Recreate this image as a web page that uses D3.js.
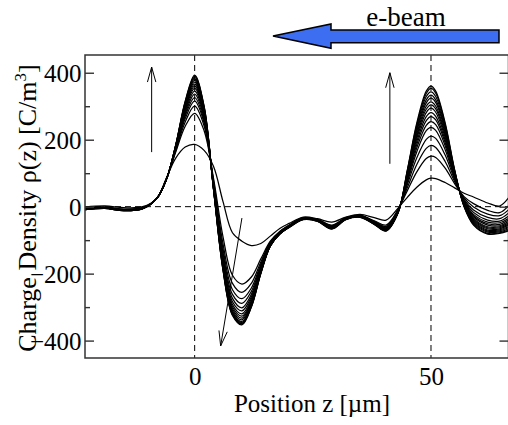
<!DOCTYPE html>
<html><head><meta charset="utf-8">
<script src="https://cdn.jsdelivr.net/npm/d3@7"></script>
<style>
html,body{margin:0;padding:0;background:#fff;}
svg{display:block;}
text{font-family:"Liberation Serif","Times New Roman",Times,serif;fill:#000;}
</style></head><body>
<svg id="chart" width="508" height="425"></svg>
<script>
// Position grid (µm) shared by every charge-density profile
const zGrid = [-24, -19, -15, -11, -8, -6, -4, -2, 0, 2, 4, 6, 8, 10, 12, 14, 16, 18, 20, 23, 26, 29, 32, 35, 38, 40.5, 43, 45, 47, 49, 50, 51, 53, 55, 57, 59, 62, 64.5, 66.5];

// Charge density ρ(z) in C/m³, one profile per time step (growing amplitude)
const rho01 = [-2, 2, -3, 0, 25, 85, 145, 178, 186, 168, 120, 15, -78, -103, -116, -110, -88, -65, -50, -31, -36, -46, -31, -23, -33, -40, -5, 28, 58, 80, 85, 84, 72, 56, 40, 29, 11, 2, 28];
const rho02 = [-6, -1, -7, -3, 25, 83, 163, 240, 279, 227, 84, -90, -205, -231, -210, -156, -103, -74, -55, -33, -38, -55, -33, -26, -42, -55, -9, 48, 104, 144, 151, 147, 115, 69, 30, 9, -11, -18, 4];
const rho03 = [-6, -2, -8, -3, 25, 82, 167, 253, 300, 241, 77, -111, -229, -256, -229, -165, -106, -75, -56, -34, -39, -57, -34, -27, -44, -59, -10, 57, 126, 174, 183, 177, 135, 75, 26, -1, -22, -27, -8];
const rho04 = [-7, -2, -9, -4, 25, 82, 170, 263, 315, 250, 72, -126, -248, -275, -243, -172, -109, -77, -57, -34, -39, -58, -34, -27, -45, -61, -12, 66, 146, 201, 211, 204, 154, 81, 22, -10, -32, -36, -18];
const rho05 = [-7, -3, -9, -4, 25, 82, 172, 271, 326, 257, 68, -138, -262, -289, -253, -177, -110, -78, -57, -34, -39, -59, -34, -27, -46, -63, -13, 73, 164, 227, 237, 228, 170, 86, 18, -17, -40, -43, -27];
const rho06 = [-8, -3, -10, -4, 25, 81, 174, 277, 336, 264, 64, -148, -274, -302, -262, -181, -112, -78, -58, -35, -40, -60, -35, -27, -47, -64, -14, 78, 176, 243, 254, 245, 182, 89, 15, -23, -46, -48, -34];
const rho07 = [-8, -3, -10, -5, 25, 81, 176, 283, 345, 269, 62, -156, -284, -311, -269, -185, -113, -79, -58, -35, -40, -60, -35, -28, -47, -65, -15, 83, 186, 257, 269, 259, 191, 92, 13, -27, -51, -53, -39];
const rho08 = [-8, -4, -10, -5, 25, 81, 177, 289, 353, 275, 59, -163, -292, -320, -275, -188, -114, -80, -59, -35, -40, -61, -35, -28, -48, -66, -16, 87, 195, 269, 281, 270, 199, 95, 11, -31, -55, -57, -43];
const rho09 = [-9, -4, -11, -5, 25, 81, 179, 293, 360, 279, 57, -168, -299, -327, -281, -191, -115, -80, -59, -36, -41, -62, -36, -29, -48, -67, -16, 90, 204, 281, 294, 282, 207, 97, 10, -35, -60, -60, -48];
const rho10 = [-9, -4, -11, -5, 25, 81, 180, 297, 366, 283, 56, -174, -305, -333, -285, -193, -116, -81, -59, -36, -41, -63, -36, -29, -49, -68, -17, 93, 211, 291, 304, 292, 214, 99, 8, -38, -63, -63, -52];
const rho11 = [-9, -4, -11, -5, 25, 81, 181, 301, 372, 287, 54, -178, -310, -338, -289, -195, -116, -81, -60, -36, -41, -63, -36, -29, -50, -69, -17, 96, 217, 300, 313, 300, 220, 101, 7, -41, -66, -66, -55];
const rho12 = [-9, -4, -11, -6, 25, 80, 182, 304, 377, 290, 53, -181, -315, -343, -292, -196, -117, -81, -60, -37, -42, -64, -37, -30, -50, -70, -18, 99, 225, 310, 324, 311, 227, 103, 5, -44, -70, -69, -59];
const rho13 = [-10, -5, -12, -6, 25, 80, 183, 308, 382, 293, 52, -184, -318, -346, -295, -197, -117, -82, -61, -37, -42, -65, -37, -30, -51, -70, -19, 102, 231, 319, 333, 319, 233, 105, 4, -47, -73, -72, -62];
const rho14 = [-10, -5, -12, -6, 25, 80, 184, 310, 386, 296, 51, -187, -321, -349, -297, -198, -117, -82, -61, -38, -43, -65, -38, -31, -52, -71, -19, 105, 238, 329, 343, 329, 239, 107, 2, -50, -76, -75, -66];
const rho15 = [-10, -5, -12, -6, 25, 80, 184, 313, 390, 298, 51, -188, -323, -351, -299, -199, -118, -82, -62, -38, -43, -66, -38, -31, -52, -72, -20, 108, 245, 338, 353, 339, 246, 109, 1, -53, -80, -78, -70];
const rho16 = [-10, -5, -12, -6, 25, 80, 185, 315, 393, 300, 50, -190, -325, -353, -300, -200, -118, -82, -62, -39, -44, -67, -39, -32, -53, -73, -20, 110, 250, 345, 360, 345, 250, 110, 0, -55, -82, -80, -72];

const profiles = [rho01, rho02, rho03, rho04, rho05, rho06, rho07, rho08, rho09, rho10, rho11, rho12, rho13, rho14, rho15, rho16];

// Axis ticks
const yMajorTicks = [-400, -200, 0, 200, 400];
const yMinorTicks = [-300, -100, 100, 300];
const xTicks = [0, 50];
const xMarkers = [0, 50];   // dashed guides at the two density peaks

// Growth-direction arrows, in data units: [z0, rho0] -> [z1, rho1]
const growthArrows = [
  [[-9.1, 163], [-9.1, 417]],
  [[41.3, 128], [41.3, 400]],
  [[10.0, -34], [5.5, -416]]
];

const svg = d3.select("#chart");
svg.append("rect").attr("width", 508).attr("height", 425).attr("fill", "#fff");

const box = {left: 85, right: 508.5, top: 55, bottom: 358};
const x = d3.scaleLinear().domain([-23.2, 66.4]).range([box.left, box.right]);
const y = d3.scaleLinear().domain([-452, 453]).range([box.bottom, box.top]);

svg.append("clipPath").attr("id", "plotClip")
  .append("rect")
  .attr("x", box.left).attr("y", box.top)
  .attr("width", box.right - box.left).attr("height", box.bottom - box.top);

// dashed guides
const guides = svg.append("g").attr("stroke", "#000").attr("stroke-width", 1)
  .attr("stroke-dasharray", "6,4").attr("fill", "none");
guides.selectAll("line.v").data(xMarkers).join("line")
  .attr("class", "v")
  .attr("x1", d => x(d)).attr("x2", d => x(d))
  .attr("y1", box.top).attr("y2", box.bottom);
guides.append("line")
  .attr("x1", box.left).attr("x2", box.right)
  .attr("y1", y(0)).attr("y2", y(0));

// density profiles
const line = d3.line()
  .x((d, i) => x(zGrid[i]))
  .y(d => y(d))
  .curve(d3.curveCatmullRom.alpha(0.5));

svg.append("g").attr("clip-path", "url(#plotClip)")
  .selectAll("path").data(profiles).join("path")
  .attr("d", line)
  .attr("fill", "none")
  .attr("stroke", "#000")
  .attr("stroke-width", 1.25);

// growth arrows with open heads
const arrows = svg.append("g").attr("stroke", "#000").attr("stroke-width", 1).attr("fill", "none");
growthArrows.forEach(([p0, p1]) => {
  const ax0 = x(p0[0]), ay0 = y(p0[1]), ax1 = x(p1[0]), ay1 = y(p1[1]);
  const len = Math.hypot(ax1 - ax0, ay1 - ay0);
  const ux = (ax1 - ax0) / len, uy = (ay1 - ay0) / len;
  const nx = -uy, ny = ux;
  const hl = 15, hw = 4.2;
  arrows.append("line").attr("x1", ax0).attr("y1", ay0).attr("x2", ax1).attr("y2", ay1);
  arrows.append("path").attr("d",
    `M${ax1 - hl * ux + hw * nx},${ay1 - hl * uy + hw * ny}L${ax1},${ay1}L${ax1 - hl * ux - hw * nx},${ay1 - hl * uy - hw * ny}`);
});

// frame
const frameColor = "#333";
svg.append("path")
  .attr("d", `M${box.right},${box.top}H${box.left}V${box.bottom}H${box.right}V${box.top}`)
  .attr("fill", "none").attr("stroke", frameColor).attr("stroke-width", 1.5);

function styleAxis(g) {
  g.select(".domain").remove();
  g.selectAll(".tick line").attr("stroke", frameColor).attr("stroke-width", 1.4);
  g.selectAll("text").attr("font-family", "'Liberation Serif','Times New Roman',serif")
    .attr("font-size", 25).attr("fill", "#000");
}

svg.append("g").attr("transform", `translate(${box.left},0)`)
  .call(d3.axisLeft(y).tickValues(yMajorTicks).tickSize(-9).tickPadding(3.5).tickFormat(d3.format("d")))
  .call(styleAxis)
  .selectAll("text").attr("dy", "0.34em");
svg.append("g").attr("transform", `translate(${box.left},0)`)
  .call(d3.axisLeft(y).tickValues(yMinorTicks).tickSize(-5).tickFormat(""))
  .call(styleAxis);
svg.append("g").attr("transform", `translate(${box.right},0)`)
  .call(d3.axisRight(y).tickValues(yMajorTicks).tickSize(-9).tickFormat(""))
  .call(styleAxis);
svg.append("g").attr("transform", `translate(${box.right},0)`)
  .call(d3.axisRight(y).tickValues(yMinorTicks).tickSize(-5).tickFormat(""))
  .call(styleAxis);
svg.append("g").attr("transform", `translate(0,${box.bottom})`)
  .call(d3.axisBottom(x).tickValues(xTicks).tickSize(0).tickPadding(9.5).tickFormat(d3.format("d")))
  .call(styleAxis);

// axis titles
svg.append("text")
  .attr("x", 312).attr("y", 412)
  .attr("text-anchor", "middle").attr("font-size", 25)
  .text("Position z [µm]");

const yTitle = svg.append("text")
  .attr("transform", "translate(36,208) rotate(-90)")
  .attr("text-anchor", "middle").attr("font-size", 26);
yTitle.append("tspan").text("Charge Density ρ(z) [C/m");
yTitle.append("tspan").attr("dy", -10).attr("font-size", 17).text("3");
yTitle.append("tspan").attr("dy", 10).text("]");

// beam direction arrow
const beam = [[273, 36], [331, 24], [331, 30], [499, 30], [499, 42.7], [331, 42.7], [331, 48.3]];
svg.append("polygon")
  .attr("points", beam.map(p => p.join(",")).join(" "))
  .attr("fill", "#3d6ef2").attr("stroke", "#000").attr("stroke-width", 1.5)
  .attr("stroke-linejoin", "miter");
svg.append("text")
  .attr("x", 406).attr("y", 26)
  .attr("text-anchor", "middle").attr("font-size", 27)
  .text("e-beam");
</script>
</body></html>
